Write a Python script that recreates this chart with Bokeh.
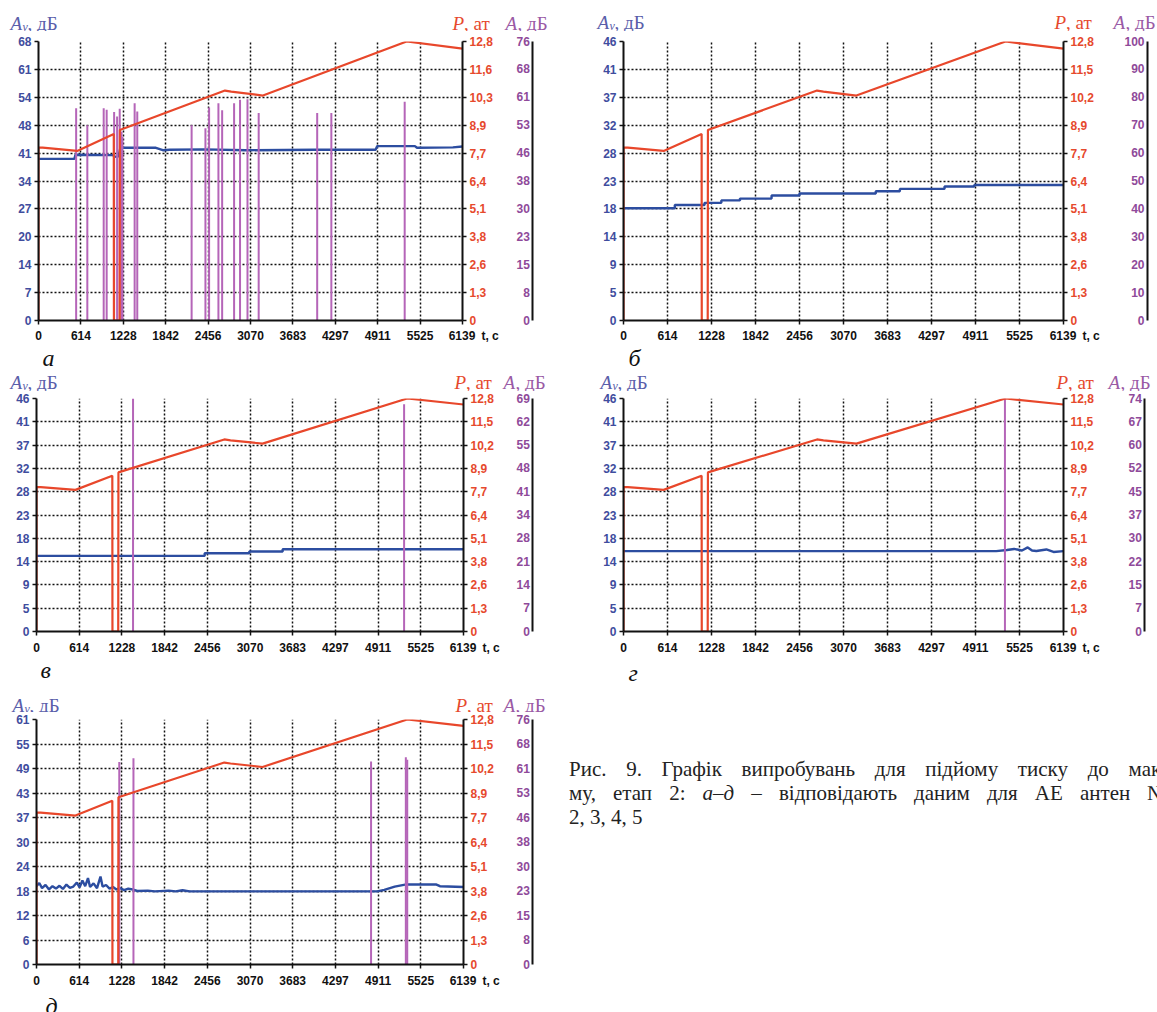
from bokeh.plotting import figure
from bokeh.models import Range1d, LinearAxis, FixedTicker, Div
from bokeh.layouts import row, column
from bokeh.embed import file_html
from bokeh.resources import INLINE
from bokeh.core.properties import value

# ---------------- data ----------------
T_MAX = 6139
x_labels = ["0", "614", "1228", "1842", "2456", "3070", "3683", "4297", "4911", "5525", "6139"]
x_unit = "t, c"

P_MAX = 12.8
p_labels_a = ["0", "1,3", "2,6", "3,8", "5,1", "6,4", "7,7", "8,9", "10,3", "11,6", "12,8"]
p_labels = ["0", "1,3", "2,6", "3,8", "5,1", "6,4", "7,7", "8,9", "10,2", "11,5", "12,8"]

# pressure P, at (same test for all antennas)
p_t = [0, 0, 60, 560, 1090, 1092, 1175, 1178, 2700, 2790, 3250, 5330, 6139]
p_v = [0, 7.93, 7.93, 7.78, 8.56, 0, 0, 8.74, 10.55, 10.5, 10.32, 12.8, 12.47]

# panel a
av_max_a = 68
av_labels_a = ["0", "7", "14", "20", "27", "34", "41", "48", "54", "61", "68"]
a_max_a = 76
a_labels_a = ["0", "8", "15", "23", "30", "38", "46", "53", "61", "68", "76"]
av_a_t = [0, 520, 535, 1080, 1100, 1160, 1185, 1700, 1800, 1900, 2400, 3000, 4000, 4880, 4905, 5450, 5480, 6000, 6139]
av_a_v = [39.4, 39.4, 40.4, 40.3, 39.9, 40.0, 42.1, 42.1, 41.5, 41.6, 41.7, 41.5, 41.6, 41.6, 42.5, 42.5, 42.1, 42.2, 42.4]
bars_a_t = [545, 707, 944, 987, 1095, 1138, 1176, 1203, 1215, 1392, 1430, 2217, 2417, 2470, 2605, 2659,
            2832, 2918, 3026, 3188, 4035, 4240, 5302]
bars_a_v = [57.8, 53.2, 57.8, 57.4, 56.8, 55.6, 57.7, 51.5, 50.0, 59.2, 56.9, 53.2, 52.4, 58.0, 59.2, 57.3,
            59.2, 60.1, 60.3, 56.5, 56.5, 56.5, 59.6]

# panel b
av_max_b = 46
av_labels_b = ["0", "5", "9", "14", "18", "23", "28", "32", "37", "41", "46"]
a_max_b = 100
a_labels_b = ["0", "10", "20", "30", "40", "50", "60", "70", "80", "90", "100"]
av_b_t = [0, 716, 1131, 1365, 1625, 2066, 2455, 3520, 3856, 4479, 4894, 6139]
av_b_v = [18.5, 19.05, 19.4, 19.8, 20.1, 20.6, 20.95, 21.3, 21.7, 22.1, 22.35, 22.35]
bars_b_t = []
bars_b_v = []

# panel c
av_max_c = 46
av_labels_c = ["0", "5", "9", "14", "18", "23", "28", "32", "37", "41", "46"]
a_max_c = 69
a_labels_c = ["0", "7", "14", "21", "28", "34", "41", "48", "55", "62", "69"]
av_c_t = [0, 2418, 3059, 3539, 6139]
av_c_v = [14.93, 15.46, 15.8, 16.25, 16.25]
bars_c_t = [1388, 5285]
bars_c_v = [69.0, 67.3]

# panel d
av_max_d = 46
av_labels_d = ["0", "5", "9", "14", "18", "23", "28", "32", "37", "41", "46"]
a_max_d = 74
a_labels_d = ["0", "7", "15", "22", "30", "37", "45", "52", "60", "67", "74"]
av_d_t = [0, 5200, 5350, 5450, 5560, 5640, 5700, 5760, 5900, 6000, 6139]
av_d_v = [15.86, 15.86, 16.1, 16.3, 16.0, 16.6, 16.0, 15.9, 16.2, 15.7, 15.86]
bars_d_t = [5322]
bars_d_v = [74.0]

# panel e
av_max_e = 61
av_labels_e = ["0", "6", "12", "18", "24", "30", "37", "43", "49", "55", "61"]
a_max_e = 76
a_labels_e = ["0", "8", "15", "23", "30", "38", "46", "53", "61", "68", "76"]
av_e_t = [0, 40, 80, 130, 180, 230, 280, 330, 380, 430, 480, 530, 580, 620, 660, 700, 740, 770, 820, 870,
          920, 950, 1000, 1050, 1100, 1150, 1200, 1260, 1320, 1400, 1450, 1600, 1700, 1900, 2000, 2100,
          2200, 4900, 5000, 5150, 5300, 5750, 5800, 6139]
av_e_v = [19.5, 20.3, 19.0, 19.8, 18.7, 19.5, 18.9, 19.6, 18.8, 19.9, 19.1, 19.4, 20.4, 19.2, 20.9, 19.5,
          21.5, 19.3, 20.2, 19.0, 21.9, 19.4, 19.8, 18.9, 19.3, 18.7, 19.0, 18.5, 18.9, 18.6, 18.3, 18.4,
          18.2, 18.4, 18.2, 18.5, 18.2, 18.2, 18.6, 19.4, 19.9, 19.9, 19.5, 19.3]
bars_e_t = [1190, 1394, 4810, 5310, 5330]
bars_e_v = [62.8, 64.0, 63.0, 64.3, 63.5]

panel_letters = ["а", "б", "в", "г", "д"]
caption_lines = ["Рис. 9. Графік випробувань для підйому тиску до максиму-",
                 "му, етап 2: <i>а–д</i> – відповідають даним для АЕ антен № 1,",
                 "2, 3, 4, 5"]

# ---------------- style ----------------
BLUE_LINE = "#2c4da0"
RED = "#e8472b"
MAG = "#b565b8"
AV_TXT = "#3f4d9e"
P_TXT = "#e6492d"
A_TXT = "#8f4a9a"
AV_TITLE = "#5a5eaa"
A_TITLE = "#9a5aa5"
SANS = "Liberation Sans"
SERIF = "Liberation Serif"
FS = "\u2007"
PAGE_W = 1157
TFS = 19


def style_axis(ax, color):
    ax.axis_line_width = 2
    ax.axis_line_color = "#111111"
    ax.major_tick_line_width = 1.5
    ax.major_tick_line_color = "#111111"
    ax.major_tick_out = 4
    ax.major_tick_in = 0
    ax.minor_tick_line_color = None
    ax.major_label_text_font = SANS
    ax.major_label_text_font_style = "bold"
    ax.major_label_text_font_size = "12px"
    ax.major_label_text_color = color


def make_panel(width, height, fl, ft, fr, fb, av_max, av_lab, a_max, a_lab, plab,
               av_t, av_v, av_step, bars_t, bars_v, a_standoff, x_standoff):
    p = figure(width=width, height=height, x_range=Range1d(0, T_MAX), y_range=Range1d(0, av_max),
               output_backend="svg", toolbar_location=None,
               min_border_left=fl, min_border_top=ft, min_border_right=width - fr,
               min_border_bottom=height - fb)
    p.outline_line_color = None
    p.background_fill_color = "white"
    p.border_fill_color = "white"
    p.extra_y_ranges = {"P": Range1d(0, P_MAX), "A": Range1d(0, a_max)}

    xt = [i * T_MAX / 10 for i in range(11)]
    avt = [i * av_max / 10 for i in range(11)]
    pt = [i * P_MAX / 10 for i in range(11)]
    at = [i * a_max / 10 for i in range(11)]

    xl = list(x_labels)
    xl[-1] = FS * 3 + "\u2009" + xl[-1] + "\u2002" + x_unit
    xax = p.xaxis[0]
    xax.ticker = FixedTicker(ticks=xt)
    xax.major_label_overrides = dict(zip(xt, xl))
    style_axis(xax, "#111111")
    xax.major_label_standoff = x_standoff

    yax = p.yaxis[0]
    yax.ticker = FixedTicker(ticks=avt)
    yax.major_label_overrides = dict(zip(avt, av_lab))
    style_axis(yax, AV_TXT)
    yax.major_label_standoff = 3

    pax = LinearAxis(y_range_name="P", ticker=FixedTicker(ticks=pt),
                     major_label_overrides=dict(zip(pt, plab)))
    style_axis(pax, P_TXT)
    pax.major_label_standoff = 3
    p.add_layout(pax, "right")

    wmax = max(len(s) for s in a_lab)
    padded = [FS * (wmax - len(s)) + s for s in a_lab]
    aax = LinearAxis(y_range_name="A", ticker=FixedTicker(ticks=at),
                     major_label_overrides=dict(zip(at, padded)))
    style_axis(aax, A_TXT)
    aax.axis_line_color = None
    aax.major_tick_line_color = None
    aax.major_tick_out = 0
    aax.major_label_standoff = a_standoff
    p.add_layout(aax, "right")

    # plain line of the A axis, to the right of its labels
    lax = LinearAxis(y_range_name="A", ticker=FixedTicker(ticks=[]))
    style_axis(lax, A_TXT)
    lax.major_tick_out = 0
    lax.major_label_standoff = 0
    p.add_layout(lax, "right")

    p.grid.grid_line_color = "#111111"
    p.grid.grid_line_dash = "2 2"
    p.grid.grid_line_width = 1.5
    p.xgrid.ticker = FixedTicker(ticks=xt)
    p.ygrid.ticker = FixedTicker(ticks=avt)

    if av_step:
        p.step(av_t, av_v, mode="after", line_color=BLUE_LINE, line_width=2.4)
    else:
        p.line(av_t, av_v, line_color=BLUE_LINE, line_width=2.4)
    if bars_t:
        p.segment(x0=bars_t, y0=[0] * len(bars_t), x1=bars_t, y1=bars_v, y_range_name="A",
                  line_color=MAG, line_width=2)
    p.line(p_t, p_v, y_range_name="P", line_color=RED, line_width=2.2)
    return p


def strip(height, titles, letters):
    """titles: list of (x_av, x_p, x_a, baseline); letters: list of (x, baseline, letter)"""
    s = figure(width=PAGE_W, height=height, x_range=Range1d(0, PAGE_W), y_range=Range1d(height, 0),
               output_backend="svg", toolbar_location=None, title=None,
               min_border_left=0, min_border_right=0, min_border_top=0, min_border_bottom=0,
               x_axis_location=None, y_axis_location=None)
    s.grid.visible = False
    s.outline_line_color = None
    s.background_fill_color = "white"
    s.border_fill_color = "white"
    common = dict(text_baseline="alphabetic", text_align="left")
    big = f"{TFS}px"
    if titles:
        xs = [t[0] for t in titles]
        ys = [t[3] for t in titles]
        s.text(x=xs, y=ys, text=["A"] * len(xs), text_font=value(SERIF), text_font_size=big,
               text_font_style="italic", text_color=AV_TITLE, **common)
        s.text(x=[x + 12 for x in xs], y=[y + 3 for y in ys], text=["v"] * len(xs),
               text_font=value(SERIF), text_font_size="12px", text_font_style="italic",
               text_color=AV_TITLE, **common)
        s.text(x=[x + 17 for x in xs], y=ys, text=[", дБ"] * len(xs), text_font=value(SERIF),
               text_font_size=big, text_color=AV_TITLE, **common)
        px = [t[1] for t in titles]
        s.text(x=px, y=ys, text=["P"] * len(px), text_font=value(SERIF), text_font_size=big,
               text_font_style="italic", text_color=P_TXT, **common)
        s.text(x=[x + 11.5 for x in px], y=ys, text=[", ат"] * len(px), text_font=value(SERIF),
               text_font_size=big, text_color=P_TXT, **common)
        ax_ = [t[2] for t in titles]
        s.text(x=ax_, y=ys, text=["A"] * len(ax_), text_font=value(SERIF), text_font_size=big,
               text_font_style="italic", text_color=A_TITLE, **common)
        s.text(x=[x + 12 for x in ax_], y=ys, text=[", дБ"] * len(ax_), text_font=value(SERIF),
               text_font_size=big, text_color=A_TITLE, **common)
    if letters:
        s.text(x=[l[0] for l in letters], y=[l[1] for l in letters], text=[l[2] for l in letters],
               text_font=value(SERIF), text_font_size="24px", text_font_style="italic",
               text_color="#111111", **common)
    return s


# panels (width, height, frame left, frame top, frame right, frame bottom) in each canvas
pa = make_panel(560, 314, 38, 10, 462, 290, av_max_a, av_labels_a, a_max_a, a_labels_a, p_labels_a,
                av_a_t, av_a_v, False, bars_a_t, bars_a_v, 21, 4)
pb = make_panel(597, 314, 63, 6, 503, 290, av_max_b, av_labels_b, a_max_b, a_labels_b, p_labels,
                av_b_t, av_b_v, True, bars_b_t, bars_b_v, 28, 4)
pc = make_panel(560, 267, 36, 7, 463, 240, av_max_c, av_labels_c, a_max_c, a_labels_c, p_labels,
                av_c_t, av_c_v, True, bars_c_t, bars_c_v, 20, 5)
pd = make_panel(597, 267, 63, 7, 503, 240, av_max_d, av_labels_d, a_max_d, a_labels_d, p_labels,
                av_d_t, av_d_v, False, bars_d_t, bars_d_v, 32, 5)
pe = make_panel(560, 279, 36, 7, 463, 252, av_max_e, av_labels_e, a_max_e, a_labels_e, p_labels,
                av_e_t, av_e_v, False, bars_e_t, bars_e_v, 20, 5)

s0 = strip(31, [(10, 452, 505, 23), (597, 1054, 1113, 22)], [])
s1 = strip(46, [(10, 454, 503, 37), (600, 1056, 1108, 37)],
           [(42, 12, panel_letters[0]), (628, 12, panel_letters[1])])
s2 = strip(54, [(12, 455, 503, 47)],
           [(40, 11, panel_letters[2]), (628, 14, panel_letters[3])])
s3 = strip(21, [], [(45, 14, panel_letters[4])])

line_css = "display:block;width:643px;text-align:justify;text-align-last:justify;white-space:nowrap;"
caption_html = (
    "<div style=\"font-family:'Liberation Serif',serif;font-size:21px;line-height:24px;color:#222;"
    "padding:45px 0 0 9px;\">"
    f"<div style=\"{line_css}\">{caption_lines[0]}</div>"
    f"<div style=\"{line_css}\">{caption_lines[1]}</div>"
    f"<div style=\"display:block;white-space:nowrap;\">{caption_lines[2]}</div>"
    "</div>"
)
cap = Div(text=caption_html, width=597, height=279, margin=(0, 0, 0, 0),
          styles={"overflow": "hidden", "background": "white"})

layout = column(s0, row(pa, pb), s1, row(pc, pd), s2, row(pe, cap), s3)

open("out.html", "w").write(file_html(layout, INLINE))
